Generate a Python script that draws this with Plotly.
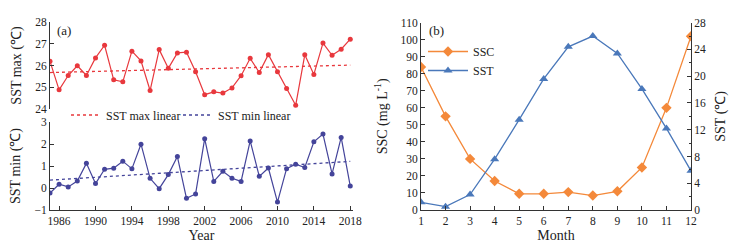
import numpy as np
import plotly.graph_objects as go

years = list(range(1985, 2019))
sst_max = [26.19, 24.88, 25.54, 25.99, 25.54, 26.35, 26.93, 25.34, 25.25, 26.66,
           26.21, 24.85, 26.73, 25.87, 26.58, 26.61, 25.71, 24.66, 24.79, 24.73,
           24.97, 25.53, 26.33, 25.68, 26.50, 25.71, 24.94, 24.17, 26.49, 25.59,
           27.03, 26.47, 26.75, 27.21]
sst_min = [-0.23, 0.17, 0.05, 0.32, 1.12, 0.20, 0.85, 0.90, 1.22, 0.87,
           1.99, 0.44, -0.03, 0.61, 1.43, -0.47, -0.27, 2.24, 0.30, 0.76,
           0.44, 0.30, 2.14, 0.53, 0.91, -0.64, 0.88, 1.08, 0.93, 2.10,
           2.45, 0.64, 2.30, 0.09]

months = list(range(1, 13))
ssc = [84, 55, 30, 17, 9.5, 9.5, 10.5, 8.5, 11, 25, 60, 102]
sst_month = [1.15, 0.5, 2.3, 7.6, 13.5, 19.6, 24.4, 26.0, 23.4, 18.1, 12.2, 5.85]

yrs = np.array(years, dtype=float)
pmax = np.polyfit(yrs, sst_max, 1)
pmin = np.polyfit(yrs, sst_min, 1)
fit_max = list(np.polyval(pmax, yrs))
fit_min = list(np.polyval(pmin, yrs))

RED = "#e8383d"
PURP = "#44449a"
ORANGE = "#f4893a"
BLUE = "#4a78ba"
FONT = "Liberation Serif"

fig = go.Figure()

fig.add_trace(go.Scatter(x=years, y=sst_max, mode="lines+markers", xaxis="x", yaxis="y",
                         line=dict(color=RED, width=1.2), marker=dict(color=RED, size=5),
                         showlegend=False))
fig.add_trace(go.Scatter(x=years, y=fit_max, mode="lines", xaxis="x", yaxis="y",
                         line=dict(color=RED, width=1.3, dash="dot"), name="SST max linear",
                         legend="legend"))
fig.add_trace(go.Scatter(x=years, y=sst_min, mode="lines+markers", xaxis="x2", yaxis="y2",
                         line=dict(color=PURP, width=1.2), marker=dict(color=PURP, size=5),
                         showlegend=False))
fig.add_trace(go.Scatter(x=years, y=fit_min, mode="lines", xaxis="x2", yaxis="y2",
                         line=dict(color=PURP, width=1.3, dash="dot"), name="SST min linear",
                         legend="legend3"))
fig.add_trace(go.Scatter(x=months, y=ssc, mode="lines+markers", xaxis="x3", yaxis="y3",
                         line=dict(color=ORANGE, width=1.3),
                         marker=dict(color=ORANGE, size=8, symbol="diamond"),
                         name="SSC", legend="legend2"))
fig.add_trace(go.Scatter(x=months, y=sst_month, mode="lines+markers", xaxis="x3", yaxis="y4",
                         line=dict(color=BLUE, width=1.3),
                         marker=dict(color=BLUE, size=8, symbol="triangle-up"),
                         name="SST", legend="legend2"))

axfont = dict(family=FONT, size=11.5, color="#222")
titlefont = dict(family=FONT, size=14, color="#222")
common = dict(showgrid=False, zeroline=False, ticks="inside", ticklen=4, tickwidth=1,
              tickcolor="#333", linecolor="#333", linewidth=1, tickfont=axfont,
              automargin=False)

# page has an 8px body margin: figure pixel = reference pixel - 8
OFF = 8
W, H = 740 - 2 * OFF, 251 - 2 * OFF
def px(a):
    return (a - OFF) / W
def py(a):
    return (H - (a - OFF)) / H
def xd(a, b):
    return [px(a), px(b)]
def yd(top, bot):
    return [py(bot), py(top)]

fig.update_layout(
    width=W, height=H,
    margin=dict(l=0, r=0, t=0, b=0, autoexpand=False),
    plot_bgcolor="white", paper_bgcolor="white",
    font=dict(family=FONT, color="#222"),
    xaxis=dict(domain=xd(50, 353), range=[1985, 2018.3], showline=False, ticks="",
               showticklabels=False, showgrid=False, zeroline=False, anchor="y",
               automargin=False),
    yaxis=dict(domain=yd(22, 109), range=[24, 28], dtick=1, showline=True, anchor="x",
               title=dict(text="SST max (℃)", font=titlefont, standoff=10), **common),
    xaxis2=dict(domain=xd(50, 353), range=[1985, 2018.3], tick0=1986, dtick=4, showline=True,
                anchor="y2", title=dict(text="Year", font=titlefont, standoff=6), **common),
    yaxis2=dict(domain=yd(122, 210), range=[-1, 3], dtick=1, showline=True, anchor="x2",
                title=dict(text="SST min (℃)", font=titlefont, standoff=10), **common),
    xaxis3=dict(domain=xd(421, 691), range=[1, 12], dtick=1, showline=True, anchor="y3",
                title=dict(text="Month", font=titlefont, standoff=4), **common),
    yaxis3=dict(domain=yd(22.7, 210), range=[0, 110], dtick=10, showline=True, anchor="x3",
                title=dict(text="SSC (mg L<sup>-1</sup>)", font=titlefont, standoff=9), **common),
    yaxis4=dict(range=[0, 28], dtick=4, showline=True, overlaying="y3", side="right", anchor="x3",
                minor=dict(dtick=2, ticks="inside", ticklen=2, tickcolor="#333"),
                title=dict(text="SST (℃)", font=titlefont, standoff=10), **common),
    legend=dict(orientation="h", x=58 / W, y=(H - 107) / H, xanchor="left", yanchor="middle",
                font=dict(family=FONT, size=12), bgcolor="rgba(0,0,0,0)",
                itemwidth=30, tracegroupgap=0),
    legend3=dict(orientation="h", x=170 / W, y=(H - 107) / H, xanchor="left", yanchor="middle",
                 font=dict(family=FONT, size=12), bgcolor="rgba(0,0,0,0)",
                 itemwidth=30, tracegroupgap=0),
    legend2=dict(x=415 / W, y=(H - 29) / H, xanchor="left", yanchor="top",
                 font=dict(family=FONT, size=12), bgcolor="rgba(0,0,0,0)",
                 itemwidth=40, tracegroupgap=0),
    annotations=[
        dict(text="(a)", x=px(55), y=py(30), xref="paper", yref="paper",
             xanchor="left", yanchor="middle", showarrow=False, font=dict(family=FONT, size=13)),
        dict(text="(b)", x=px(427), y=py(30), xref="paper", yref="paper",
             xanchor="left", yanchor="middle", showarrow=False, font=dict(family=FONT, size=13)),
    ],
)

fig.write_html("out.html")
